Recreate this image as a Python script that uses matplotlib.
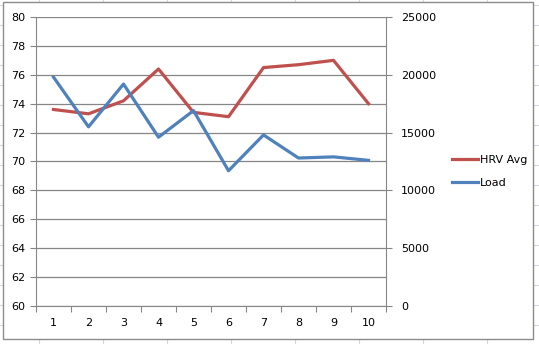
import matplotlib
matplotlib.use("Agg")
import matplotlib.pyplot as plt
from matplotlib.lines import Line2D
from matplotlib.patches import Rectangle

categories = [1, 2, 3, 4, 5, 6, 7, 8, 9, 10]
hrv_avg = [73.6, 73.3, 74.2, 76.4, 73.4, 73.1, 76.5, 76.7, 77.0, 74.0]
load = [19800, 15500, 19200, 14600, 16900, 11700, 14800, 12800, 12900, 12600]
left_ticks = [60, 62, 64, 66, 68, 70, 72, 74, 76, 78, 80]
right_ticks = [0, 5000, 10000, 15000, 20000, 25000]

W, H = 539, 344
fig = plt.figure(figsize=(W / 100, H / 100), dpi=100)
fig.patch.set_facecolor("white")

# spreadsheet gridlines behind the chart
for x in range(39, W, 64):
    fig.add_artist(Line2D([x / W, x / W], [0, 1], color="#d4d8e0", lw=0.8, zorder=0))
for y in range(5, H, 20):
    fig.add_artist(Line2D([0, 1], [1 - y / H, 1 - y / H], color="#d4d8e0", lw=0.8, zorder=0))

# chart area
fig.add_artist(Rectangle((3 / W, 1 - 339 / H), (533 - 3) / W, (339 - 2) / H,
                         facecolor="white", edgecolor="#8c8c8c", lw=1.0, zorder=1))

ax = fig.add_axes([36 / W, 1 - 306 / H, (386 - 36) / W, (306 - 17) / H], zorder=2)
ax.set_facecolor("none")
ax2 = ax.twinx()

axis_col = "#868686"
ax.set_xlim(0.5, 10.5)
ax.set_ylim(60, 80)
ax.set_yticks(left_ticks)
ax.set_yticklabels([str(t) for t in left_ticks])
ax.grid(axis="y", color=axis_col, lw=0.9)
ax.set_axisbelow(True)
ax.set_xticks([i + 0.5 for i in range(0, 11)])
ax.set_xticklabels([])
ax.set_xticks(categories, minor=True)
ax.set_xticklabels([str(c) for c in categories], minor=True)
ax.tick_params(axis="x", which="major", direction="out", length=4, color=axis_col)
ax.tick_params(axis="x", which="minor", length=0, pad=9, labelsize=8)
ax.tick_params(axis="y", direction="out", length=4, color=axis_col, labelsize=8, pad=4)

ax2.set_ylim(0, 25000)
ax2.set_yticks(right_ticks)
ax2.set_yticklabels([str(t) for t in right_ticks])
ax2.tick_params(axis="y", direction="out", length=4, color=axis_col, labelsize=8, pad=7)

for a in (ax, ax2):
    for s in a.spines.values():
        s.set_visible(False)
ax.spines["left"].set_visible(True)
ax.spines["left"].set_color(axis_col)
ax.spines["bottom"].set_visible(True)
ax.spines["bottom"].set_color(axis_col)
ax2.spines["right"].set_visible(True)
ax2.spines["right"].set_color(axis_col)

red = "#c0504d"
blue = "#4f81bd"
l1, = ax.plot(categories, hrv_avg, color=red, lw=2.3, label="HRV Avg", zorder=3)
l2, = ax2.plot(categories, load, color=blue, lw=2.3, label="Load", zorder=3)

fig.legend(handles=[l1, l2], labels=["HRV Avg", "Load"], loc="upper left",
           bbox_to_anchor=(442 / W, 1 - 145 / H), frameon=False, fontsize=8,
           handlelength=2.3, handletextpad=0.2, labelspacing=1.2)

fig.savefig("out.png", dpi=100)
